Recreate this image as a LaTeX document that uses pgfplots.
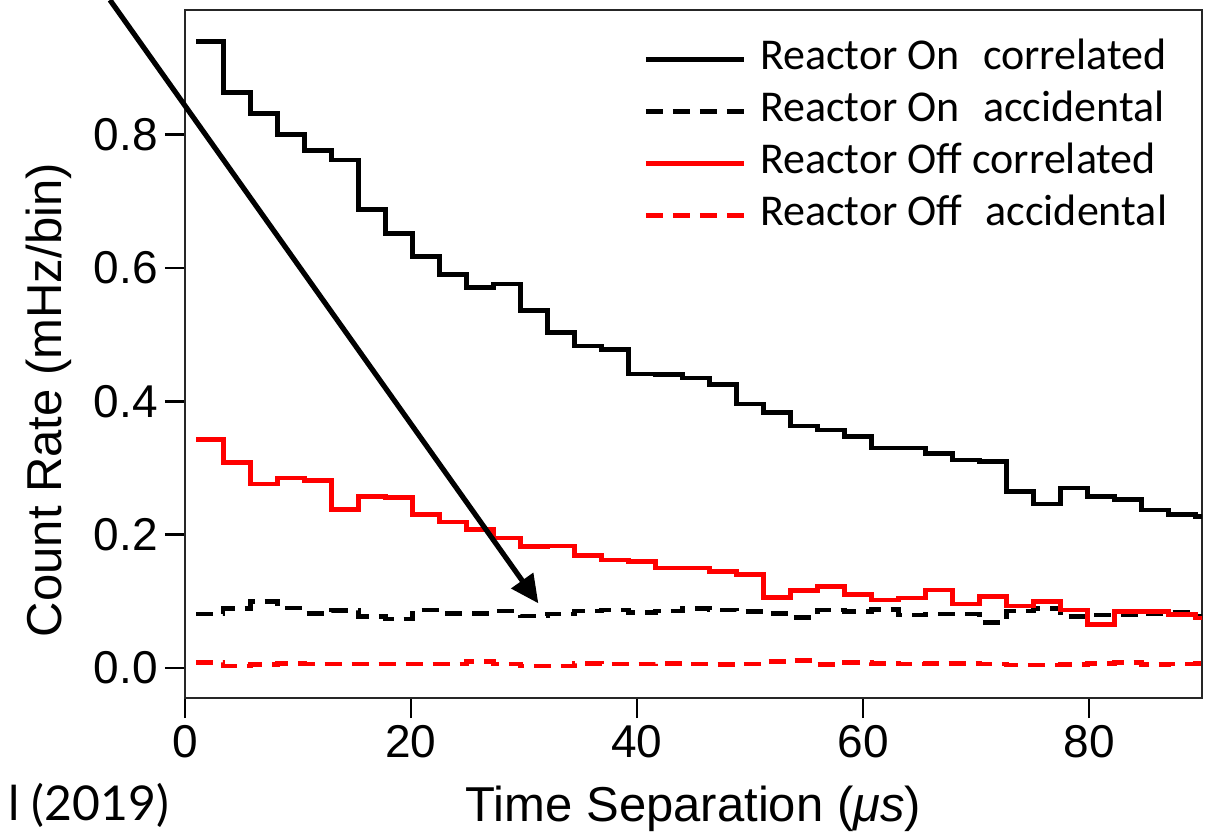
\documentclass[border=0pt]{standalone}
\usepackage{pgfplots}
\pgfplotsset{compat=1.18}
\usepackage{pgfplotstable}
\usepackage{fontspec}
\setmainfont{Liberation Sans}
\newfontfamily\carlito{Carlito}
\newfontfamily\lato{Lato}
\usetikzlibrary{arrows.meta}

% left bin edge, then the four rates (mHz/bin); last row closes the last bin
\pgfplotstableread{
t      oncor  onacc   offcor  offacc
1.00   0.940  0.081   0.343   0.008
3.39   0.863  0.0895  0.308   0.003
5.78   0.832  0.100   0.276   0.0055
8.17   0.800  0.090   0.285   0.007
10.56  0.776  0.082   0.281   0.006
12.95  0.762  0.086   0.238   0.006
15.34  0.688  0.077   0.257   0.006
17.73  0.652  0.0735  0.256   0.006
20.12  0.617  0.087   0.230   0.006
22.51  0.590  0.082   0.219   0.006
24.90  0.571  0.082   0.208   0.0095
27.29  0.576  0.0855  0.195   0.006
29.68  0.536  0.078   0.182   0.003
32.07  0.503  0.081   0.183   0.003
34.46  0.483  0.0855  0.169   0.007
36.85  0.478  0.087   0.162   0.006
39.24  0.441  0.083   0.160   0.006
41.63  0.440  0.0855  0.150   0.007
44.02  0.435  0.0895  0.150   0.006
46.41  0.425  0.087   0.145   0.005
48.80  0.396  0.0845  0.140   0.006
51.19  0.383  0.082   0.106   0.0095
53.58  0.363  0.076   0.116   0.011
55.97  0.357  0.087   0.122   0.005
58.36  0.347  0.0845  0.110   0.008
60.75  0.330  0.088   0.102   0.007
63.14  0.330  0.0795  0.105   0.006
65.53  0.322  0.081   0.117   0.007
67.92  0.312  0.081   0.096   0.007
70.31  0.310  0.068   0.107   0.006
72.70  0.265  0.0855  0.093   0.0045
75.09  0.246  0.0895  0.100   0.0045
77.48  0.270  0.077   0.087   0.005
79.87  0.257  0.0795  0.065   0.007
82.26  0.253  0.0795  0.085   0.008
84.65  0.237  0.082   0.085   0.005
87.04  0.230  0.083   0.080   0.006
89.43  0.227  0.078   0.075   0.007
91.82  0.227  0.078   0.075   0.007
}\rates

\tikzset{
  solidline/.style={line width=2.4pt},
  dashline/.style={line width=2.2pt, dash pattern=on 8.5pt off 5pt},
}

\begin{document}
\begin{tikzpicture}
\begin{axis}[
    scale only axis,
    width=508.5pt, height=344pt,
    xmin=0, xmax=90,
    ymin=-0.045, ymax=0.987,
    xtick={0,20,40,60,80},
    ytick={0,0.2,0.4,0.6,0.8},
    yticklabels={0.0,0.2,0.4,0.6,0.8},
    minor tick num=0,
    tick align=outside,
    xtick pos=left, ytick pos=left,
    major tick length=10pt,
    tick style={line width=1.2pt, black},
    axis line style={line width=1.2pt, black!85},
    /pgf/number format/assume math mode=true,
    tick label style={font=\fontsize{23}{27}\selectfont},
    xlabel={Time Separation (\textit{μs})},
    ylabel={Count Rate (mHz/bin)},
    label style={font=\fontsize{24.5}{29}\selectfont},
    xlabel style={at={(axis description cs:0.5,-0.18)}, anchor=base},
    ylabel style={at={(axis description cs:-0.121,0.433)}, anchor=base},
    legend cell align=left,
    legend image code/.code={\draw[#1] (0pt,0pt) -- (49pt,0pt);},
    legend style={
        at={(axis description cs:0.4503,0.958)}, anchor=north west,
        draw=none, fill=none, inner sep=0pt,
        font=\carlito\fontsize{22}{26}\selectfont,
        nodes={inner sep=0pt, text height=15pt, text depth=5pt},
        row sep=6pt, column sep=7pt,
    },
]
\addplot[const plot, black, solidline] table[x=t, y=oncor] {\rates};
\addlegendentry{Reactor On\hspace{0.3em} correlated}
\addplot[const plot, black, dashline] table[x=t, y=onacc] {\rates};
\addlegendentry{Reactor On\hspace{0.3em} accidental}
\addplot[const plot, red, solidline] table[x=t, y=offcor] {\rates};
\addlegendentry{Reactor Off correlated}
\addplot[const plot, red, dashline] table[x=t, y=offacc] {\rates};
\addlegendentry{Reactor Off\hspace{0.3em} accidental}

\coordinate (arrowstart) at (axis cs:-6.64,1.002);
\coordinate (arrowtip) at (axis cs:31.27,0.097);
\coordinate (cite) at (axis cs:-15.66,-0.228);
\coordinate (bbsw) at (axis cs:-16.37,-0.246);
\coordinate (bbne) at (axis cs:90.53,1.002);
\end{axis}

\draw[line width=2.6pt, -{Triangle[length=14pt,width=13pt]}] (arrowstart) -- (arrowtip);
\node[anchor=base west, inner sep=0pt, font=\lato\fontsize{24}{28}\selectfont] at (cite) {l (2019)};

\pgfresetboundingbox
\path[use as bounding box] (bbsw) rectangle (bbne);
\end{tikzpicture}
\end{document}
